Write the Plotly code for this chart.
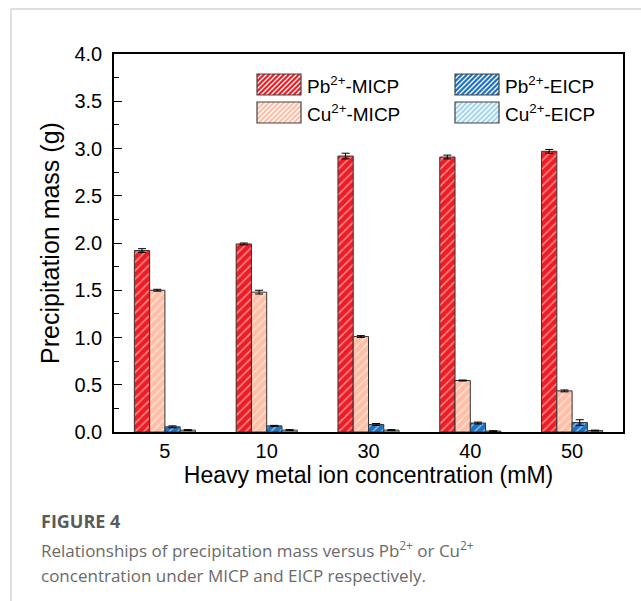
import plotly.graph_objects as go

# ---- data ----
concentrations = ["5", "10", "30", "40", "50"]
series_names = ["Pb<sup>2+</sup>-MICP", "Cu<sup>2+</sup>-MICP", "Pb<sup>2+</sup>-EICP", "Cu<sup>2+</sup>-EICP"]
pb_micp = [1.92, 1.99, 2.92, 2.91, 2.97]
pb_micp_err = [0.02, 0.01, 0.03, 0.02, 0.02]
cu_micp = [1.50, 1.48, 1.01, 0.545, 0.435]
cu_micp_err = [0.01, 0.02, 0.01, 0.005, 0.01]
pb_eicp = [0.055, 0.065, 0.08, 0.095, 0.10]
pb_eicp_err = [0.01, 0.005, 0.01, 0.01, 0.03]
cu_eicp = [0.02, 0.02, 0.02, 0.01, 0.015]
cu_eicp_err = [0.005, 0.005, 0.005, 0.003, 0.005]
y_ticks = [0.0, 0.5, 1.0, 1.5, 2.0, 2.5, 3.0, 3.5, 4.0]

colors = ["#f01c24", "#ffbfa6", "#1d72c2", "#a6d6ea"]
values = [pb_micp, cu_micp, pb_eicp, cu_eicp]
errors = [pb_micp_err, cu_micp_err, pb_eicp_err, cu_eicp_err]

W, H = 641, 601
ML, MR, MT, MB = 114, 18, 54, 169
PW, PH = W - ML - MR, H - MT - MB

def px(x):
    return (x - ML) / PW

def py(y):
    return (H - MB - y) / PH

FONT = "Liberation Sans, Arial, sans-serif"
CAP_FONT = "Open Sans, Noto Sans, sans-serif"

fig = go.Figure()
for name, vals, errs, col in zip(series_names, values, errors, colors):
    fig.add_trace(go.Bar(
        x=concentrations, y=vals, name=name,
        marker=dict(color=col, line=dict(color="#333333", width=1),
                    pattern=dict(shape="/", fgcolor="white", fillmode="overlay",
                                 size=6, solidity=0.25)),
        error_y=dict(type="data", array=errs, color="black", thickness=1, width=4),
        showlegend=False,
    ))

shapes = []
annotations = []

# manual legend (large patterned swatches)
legend_pos = [(257, 74), (257, 102), (455, 74), (455, 102)]
sw_w, sw_h = 44, 21
for (lx, ly), name, col in zip(legend_pos, series_names, colors):
    shapes.append(dict(type="rect", xref="paper", yref="paper",
                       x0=px(lx), x1=px(lx + sw_w), y0=py(ly + sw_h), y1=py(ly),
                       fillcolor=col, line=dict(width=0), layer="above"))
    segs = []
    step = 5
    c = -sw_h
    while c < sw_w:
        t0 = max(0, -c)
        t1 = min(sw_h, sw_w - c)
        if t1 > t0:
            x0, y0 = lx + c + t0, ly + sw_h - t0
            x1, y1 = lx + c + t1, ly + sw_h - t1
            segs.append(f"M{px(x0):.5f},{py(y0):.5f}L{px(x1):.5f},{py(y1):.5f}")
        c += step
    shapes.append(dict(type="path", xref="paper", yref="paper", path="".join(segs),
                       line=dict(color="white", width=1.3), layer="above"))
    shapes.append(dict(type="rect", xref="paper", yref="paper",
                       x0=px(lx), x1=px(lx + sw_w), y0=py(ly + sw_h), y1=py(ly),
                       line=dict(color="#444444", width=1.2), layer="above"))
    annotations.append(dict(xref="paper", yref="paper", x=px(lx + sw_w + 4),
                            y=py(ly + sw_h / 2), text=name, showarrow=False,
                            xanchor="left", yanchor="middle",
                            font=dict(family=FONT, size=19, color="black")))

# card border
shapes.append(dict(type="line", xref="paper", yref="paper", x0=px(11), x1=px(641),
                   y0=py(9), y1=py(9), line=dict(color="#d4d4d4", width=1.5)))
shapes.append(dict(type="line", xref="paper", yref="paper", x0=px(11), x1=px(11),
                   y0=py(9), y1=py(601), line=dict(color="#d4d4d4", width=1.5)))

# caption
annotations.append(dict(xref="paper", yref="paper", x=px(39), y=py(521),
                        text="<b>FIGURE 4</b>", showarrow=False, xanchor="left",
                        yanchor="middle",
                        font=dict(family=CAP_FONT, size=18, color="#5a5a5a")))
annotations.append(dict(xref="paper", yref="paper", x=px(39), y=py(549),
                        text="Relationships of precipitation mass versus Pb<sup>2+</sup> or Cu<sup>2+</sup>",
                        showarrow=False, xanchor="left", yanchor="middle", align="left",
                        font=dict(family=CAP_FONT, size=17, color="#6a6a6a")))
annotations.append(dict(xref="paper", yref="paper", x=px(39), y=py(575),
                        text="concentration under MICP and EICP respectively.",
                        showarrow=False, xanchor="left", yanchor="middle", align="left",
                        font=dict(family=CAP_FONT, size=17, color="#6a6a6a")))

fig.update_layout(
    width=W, height=H,
    margin=dict(l=ML, r=MR, t=MT, b=MB),
    paper_bgcolor="white", plot_bgcolor="white",
    barmode="group", bargap=0.4, bargroupgap=0.0,
    font=dict(family=FONT, size=20, color="black"),
    shapes=shapes, annotations=annotations,
    xaxis=dict(
        showline=True, linecolor="black", linewidth=1.5, mirror=True,
        ticks="", showgrid=False,
        tickfont=dict(size=20),
        title=dict(text="Heavy metal ion concentration (mM)", font=dict(size=23), standoff=2),
    ),
    yaxis=dict(
        range=[0, 4], tickvals=y_ticks, tickformat=".1f",
        showline=True, linecolor="black", linewidth=1.5, mirror=True,
        ticks="inside", ticklen=8, tickwidth=1.2, tickcolor="black",
        minor=dict(ticks="inside", ticklen=5, dtick=0.25, tickcolor="black", tickwidth=1.2),
        showgrid=False, zeroline=False,
        tickfont=dict(size=20), ticklabelstandoff=6,
        title=dict(text="Precipitation mass (g)", font=dict(size=25), standoff=8),
    ),
)

fig.write_html("out.html")
